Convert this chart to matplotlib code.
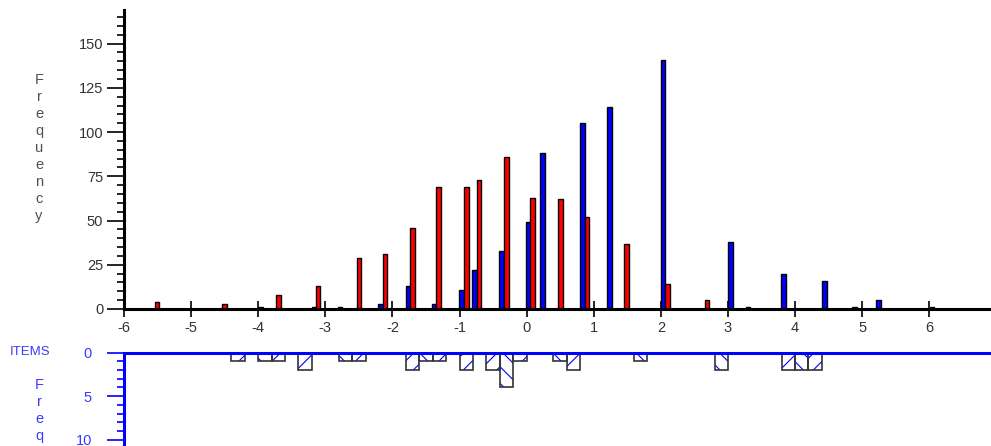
import matplotlib
matplotlib.use('Agg')
import matplotlib.pyplot as plt
from matplotlib.ticker import MultipleLocator

plt.rcParams['font.family'] = ['Liberation Sans', 'DejaVu Sans']
plt.rcParams['axes.unicode_minus'] = False
plt.rcParams['hatch.linewidth'] = 0.8

# person distribution (blue) and item distribution (red), top panel
blue_x = [-3.97, -3.17, -2.78, -2.18, -1.77, -1.38, -0.97, -0.78, -0.37, 0.02,
          0.24, 0.83, 1.23, 2.03, 3.04, 3.83, 4.44, 5.24, 6.04]
blue_n = [1, 1, 1, 3, 13, 3, 11, 22, 33, 49,
          88, 105, 114, 141, 38, 20, 16, 5, 1]

red_x = [-5.51, -4.50, -3.70, -3.11, -2.50, -2.11, -1.70, -1.31, -0.90, -0.71,
         -0.30, 0.09, 0.50, 0.90, 1.49, 2.10, 2.69, 3.30, 4.89]
red_n = [4, 3, 8, 13, 29, 31, 46, 69, 69, 73,
         86, 63, 62, 52, 37, 14, 5, 1, 1]

# item counts, bottom panel
item_x = [-4.3, -3.9, -3.7, -3.3, -2.7, -2.5, -1.7, -1.5, -1.3, -0.9,
          -0.5, -0.3, -0.1, 0.5, 0.7, 1.7, 2.9, 3.9, 4.1, 4.3]
item_n = [1, 1, 1, 2, 1, 1, 2, 1, 1, 2,
          2, 4, 1, 1, 2, 1, 2, 2, 2, 2]
item_hatch = ['//', '\\\\', '//', '//', '\\\\', '//', '//', '\\\\', '//', '//',
              '//', '\\\\', '//', '\\\\', '//', '\\\\', '\\\\', '//', '\\\\', '//']

xticks = list(range(-6, 7))
yticks_top = [0, 25, 50, 75, 100, 125, 150]
yticks_bot = [0, 5, 10]

blue = '#0000ff'
txtblue = '#3a3aff'
gray = '#333333'

fig = plt.figure(figsize=(9.91, 4.46), dpi=100)

# ---- top panel
ax = fig.add_axes([124 / 991, 137 / 446, 867 / 991, 299 / 446])
ax.bar(blue_x, blue_n, width=0.07, color=blue, edgecolor='black', linewidth=1, zorder=3)
ax.bar(red_x, red_n, width=0.07, color='#ff0000', edgecolor='black', linewidth=1, zorder=3)
ax.set_xlim(-6, 6.92)
ax.set_ylim(0, 169)
for s in ['top', 'right']:
    ax.spines[s].set_visible(False)
ax.spines['left'].set_linewidth(2.2)
ax.spines['bottom'].set_linewidth(2.2)
ax.spines['bottom'].set_zorder(4)
ax.set_xticks(xticks)
ax.set_yticks(yticks_top)
ax.yaxis.set_minor_locator(MultipleLocator(5))
ax.tick_params(axis='y', which='major', length=12, width=1.2, direction='out',
               labelsize=10.5, labelcolor=gray, pad=3)
ax.tick_params(axis='y', which='minor', length=5, width=1.2, direction='out')
ax.tick_params(axis='x', which='major', length=11, width=1.2, direction='inout',
               labelsize=10.5, labelcolor=gray, pad=3)
fig.text(39 / 991, 1 - 73 / 446, '\n'.join('Frequency'), ha='center', va='top',
         fontsize=10.5, color='#505050', linespacing=1.27)

# ---- bottom panel
ax2 = fig.add_axes([124 / 991, -11 / 446, 867 / 991, 104.4 / 446])
for x, n, h in zip(item_x, item_n, item_hatch):
    ax2.bar(x, n, width=0.2, color='none', edgecolor=blue, hatch=h, linewidth=0, zorder=2)
ax2.bar(item_x, item_n, width=0.2, fill=False, edgecolor='#333333', linewidth=1.2, zorder=3)
ax2.set_xlim(-6, 6.92)
ax2.set_ylim(12, 0)
for s in ['bottom', 'right']:
    ax2.spines[s].set_visible(False)
for s in ['top', 'left']:
    ax2.spines[s].set_color(blue)
    ax2.spines[s].set_linewidth(2.2)
    ax2.spines[s].set_zorder(4)
ax2.set_xticks([])
ax2.set_yticks(yticks_bot)
ax2.yaxis.set_minor_locator(MultipleLocator(1))
ax2.tick_params(axis='y', which='major', length=12, width=1.2, direction='out',
                color=blue, labelsize=10.5, labelcolor=txtblue, pad=11)
ax2.tick_params(axis='y', which='minor', length=5, width=1.2, direction='out', color=blue)
fig.text(10 / 991, 1 - 352 / 446, 'ITEMS', ha='left', va='center',
         fontsize=9.5, color=txtblue)
fig.text(39 / 991, 1 - 378 / 446, '\n'.join('Frequency'), ha='center', va='top',
         fontsize=10.5, color=txtblue, linespacing=1.27)

fig.savefig('out.png', dpi=100)
